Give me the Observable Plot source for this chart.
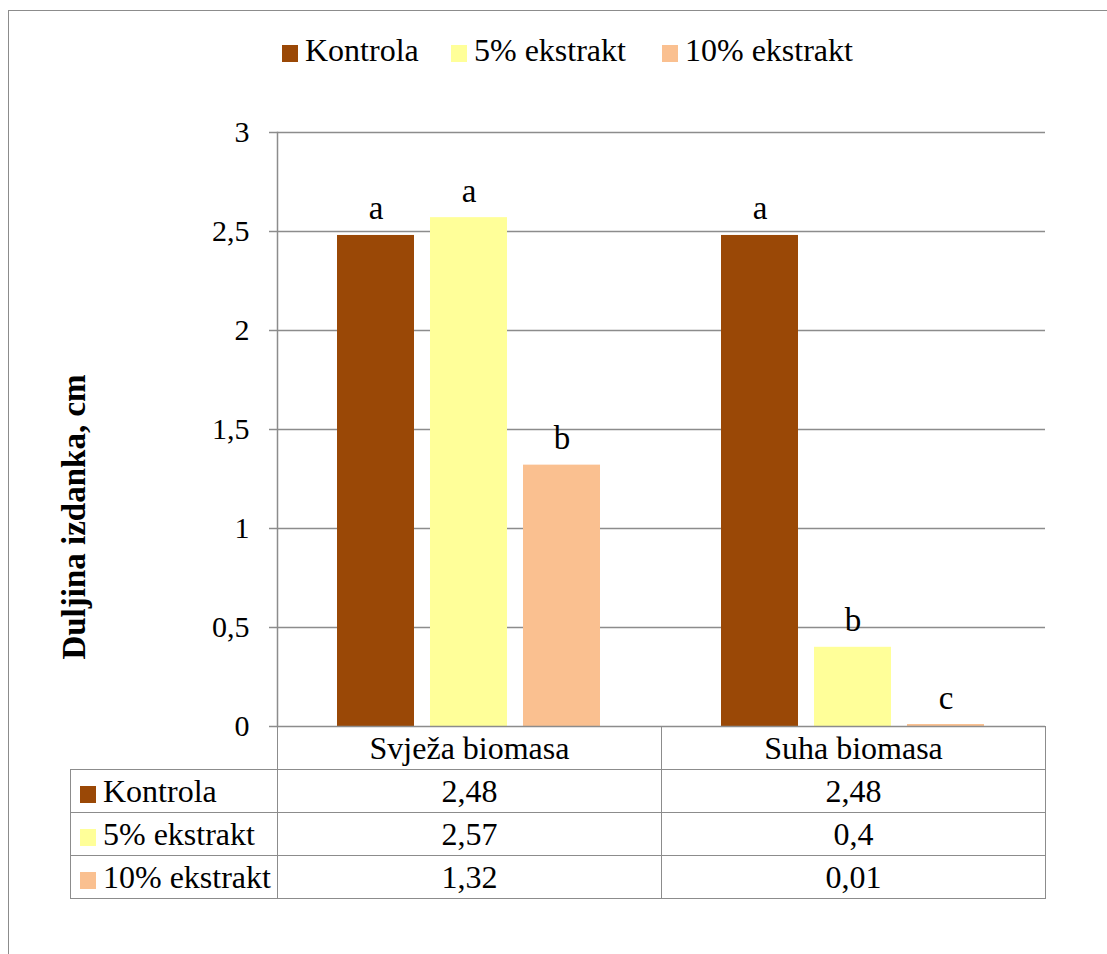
<!DOCTYPE html>
<html>
<head>
<meta charset="utf-8">
<script src="https://cdn.jsdelivr.net/npm/d3@7"></script>
<script src="https://cdn.jsdelivr.net/npm/@observablehq/plot@0.6"></script>
<style>
  html, body { margin: 0; padding: 0; background: #fff; }
  #root { position: relative; width: 1107px; height: 954px; overflow: hidden; font-family: "Liberation Serif", "Times New Roman", serif; color: #000; }
  #frame { position: absolute; left: 8px; top: 10px; width: 1200px; height: 1000px; border-left: 1.5px solid #8c8c8c; border-top: 1.5px solid #8c8c8c; }
  #legend { position: absolute; top: 30px; left: 0; width: 1107px; height: 40px; }
  .li { position: absolute; top: 0; font-size: 32px; line-height: 40px; white-space: nowrap; }
  .sw { display: inline-block; width: 16px; height: 17px; vertical-align: -1px; margin-right: 7px; }
  #plot { position: absolute; left: 0; top: 0; }
  #ylab { position: absolute; left: 74px; top: 517px; transform: translate(-50%, -50%) rotate(-90deg); font-weight: bold; font-size: 33px; white-space: nowrap; }
  #tbl { position: absolute; left: 70px; top: 726px; border-collapse: collapse; font-size: 32px; table-layout: fixed; }
  #tbl td { border: 1.5px solid #8c8c8c; height: 42px; padding: 0; text-align: center; white-space: nowrap; overflow: visible; }
  #tbl td.rh { text-align: left; padding-left: 9px; }
  #tbl td.blank { border: none; border-bottom: 1.5px solid #8c8c8c; }
</style>
</head>
<body>
<div id="root">
  <div id="frame"></div>
  <div id="legend"></div>
  <div id="plot"></div>
  <div id="ylab"></div>
  <table id="tbl"></table>
</div>
<script>
const categories = ["Svježa biomasa", "Suha biomasa"];
const series = ["Kontrola", "5% ekstrakt", "10% ekstrakt"];
const colors = ["#9a4806", "#ffff99", "#fac090"];
const kontrola = [2.48, 2.48];
const ekstrakt5 = [2.57, 0.4];
const ekstrakt10 = [1.32, 0.01];
const lettersK = ["a", "a"];
const letters5 = ["a", "b"];
const letters10 = ["b", "c"];
const yTicks = [0, 0.5, 1, 1.5, 2, 2.5, 3];
const yLabel = "Duljina izdanka, cm";

const seriesValues = [kontrola, ekstrakt5, ekstrakt10];
const seriesLetters = [lettersK, letters5, letters10];
const data = [];
categories.forEach((c, ci) => series.forEach((s, si) => data.push({
  category: c, series: s, value: seriesValues[si][ci], letter: seriesLetters[si][ci]
})));

const fmt = v => String(v).replace(".", ",");
const FONT = '"Liberation Serif", "Times New Roman", serif';

const chart = Plot.plot({
  width: 1107,
  height: 760,
  marginLeft: 277,
  marginRight: 62,
  marginTop: 132,
  marginBottom: 34,
  style: { fontFamily: FONT, fontSize: "30px", color: "#000", background: "transparent" },
  fx: { domain: categories, padding: 0, axis: null },
  x: { domain: series, paddingInner: 0.17, paddingOuter: 0.628, axis: null },
  y: { domain: [0, 3], axis: null },
  color: { domain: series, range: colors },
  marks: [
    Plot.gridY(yTicks.filter(t => t > 0), { stroke: "#8c8c8c", strokeOpacity: 1, strokeWidth: 1.5 }),
    Plot.barY(data, { fx: "category", x: "series", y: "value", fill: "series" }),
    Plot.text(data, { fx: "category", x: "series", y: "value", text: "letter", lineAnchor: "bottom", dy: -16, fontSize: 33, fill: "#000" }),
    Plot.axisY({ ticks: yTicks, tickFormat: () => "", label: null, tickSize: 8, stroke: "#8c8c8c", strokeWidth: 1.5 }),
    Plot.text(yTicks, { fx: () => categories[0], y: d => d, text: fmt, frameAnchor: "left", textAnchor: "end", dx: -28, fontSize: 30, fill: "#000" }),
    Plot.frame({ anchor: "left", facetAnchor: "left", stroke: "#8c8c8c", strokeWidth: 1.5 }),
    Plot.ruleY([0], { stroke: "#8c8c8c", strokeWidth: 1.5 })
  ]
});
document.getElementById("plot").appendChild(chart);

// Legend
const legendPos = [282, 451, 662];
const legend = document.getElementById("legend");
series.forEach((s, i) => {
  const d = document.createElement("div");
  d.className = "li";
  d.style.left = legendPos[i] + "px";
  d.innerHTML = `<span class="sw" style="background:${colors[i]}"></span>${s}`;
  legend.appendChild(d);
});

document.getElementById("ylab").textContent = yLabel;

// Data table
const tbl = document.getElementById("tbl");
const colgroup = document.createElement("colgroup");
[207, 384, 384].forEach(w => { const c = document.createElement("col"); c.style.width = w + "px"; colgroup.appendChild(c); });
tbl.appendChild(colgroup);
const hr = document.createElement("tr");
hr.innerHTML = `<td class="blank"></td>` + categories.map(c => `<td>${c}</td>`).join("");
tbl.appendChild(hr);
series.forEach((s, si) => {
  const tr = document.createElement("tr");
  tr.innerHTML = `<td class="rh"><span class="sw" style="background:${colors[si]}"></span>${s}</td>` +
    categories.map((c, ci) => `<td>${fmt(seriesValues[si][ci])}</td>`).join("");
  tbl.appendChild(tr);
});
</script>
</body>
</html>
